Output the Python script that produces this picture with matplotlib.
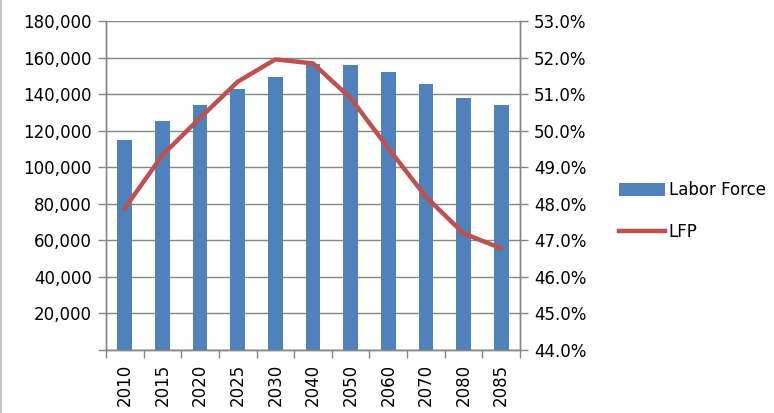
import matplotlib
matplotlib.use("Agg")
import matplotlib.pyplot as plt
import numpy as np
from matplotlib.ticker import FuncFormatter, FixedLocator
from matplotlib.lines import Line2D

years = ["2010", "2015", "2020", "2025", "2030", "2040", "2050", "2060", "2070", "2080", "2085"]
labor_force = [114900, 125400, 134000, 142700, 149500, 156300, 156000, 152000, 145500, 137800, 133900]
lfp = [47.88, 49.33, 50.35, 51.34, 51.95, 51.84, 50.89, 49.52, 48.19, 47.19, 46.78]

bar_color = "#4F81BD"
line_color = "#C0504D"
axis_gray = "#868686"
fs = 12

plt.rcParams["font.family"] = ["DejaVu Sans"]

fig = plt.figure(figsize=(7.74, 4.13), dpi=100)
ax = fig.add_axes([106 / 774, 63 / 413, 414 / 774, 329 / 413])
ax2 = ax.twinx()

x = np.arange(len(years))
bars = ax.bar(x, labor_force, width=0.39, color=bar_color, label="Labor Force", zorder=2)
line, = ax2.plot(x, lfp, color=line_color, lw=3.2, label="LFP", solid_joinstyle="round", zorder=3)

ax.set_xlim(-0.5, len(years) - 0.5)
ax.set_ylim(0, 180000)
ax.set_yticks(np.arange(0, 180001, 20000))
ax.yaxis.set_major_formatter(FuncFormatter(lambda v, p: "" if v == 0 else f"{int(v):,}"))
ax.grid(axis="y", color=axis_gray, lw=1, zorder=0)
ax.set_axisbelow(True)

ax2.set_ylim(44, 53)
ax2.set_yticks(np.arange(44, 53.01, 1))
ax2.yaxis.set_major_formatter(FuncFormatter(lambda v, p: f"{v:.1f}%"))

ax.set_xticks(x)
ax.set_xticklabels(years, rotation=90, fontsize=fs)
ax.tick_params(axis="x", which="major", length=0, pad=10)
ax.xaxis.set_minor_locator(FixedLocator(np.arange(-0.5, len(years), 1)))
ax.tick_params(axis="x", which="minor", length=6, color=axis_gray, width=1)
ax.tick_params(axis="y", length=6, color=axis_gray, width=1, labelsize=fs, pad=4)
ax2.tick_params(axis="y", length=6, color=axis_gray, width=1, labelsize=fs, pad=4)

for a in (ax, ax2):
    for s in a.spines.values():
        s.set_color(axis_gray)
        s.set_linewidth(1)
    a.spines["top"].set_visible(False)

fig.legend(handles=[bars, line], labels=["Labor Force", "LFP"],
           loc="center left", bbox_to_anchor=(612 / 774, 1 - 211 / 413),
           frameon=False, fontsize=fs, handlelength=2.8, handleheight=0.8,
           handletextpad=0.2, labelspacing=1.45, borderaxespad=0)

fig.add_artist(Line2D([0.5 / 774, 0.5 / 774], [0, 1], color="#C8C8C8", lw=1.5,
                      transform=fig.transFigure))

fig.savefig("out.png", dpi=100)
